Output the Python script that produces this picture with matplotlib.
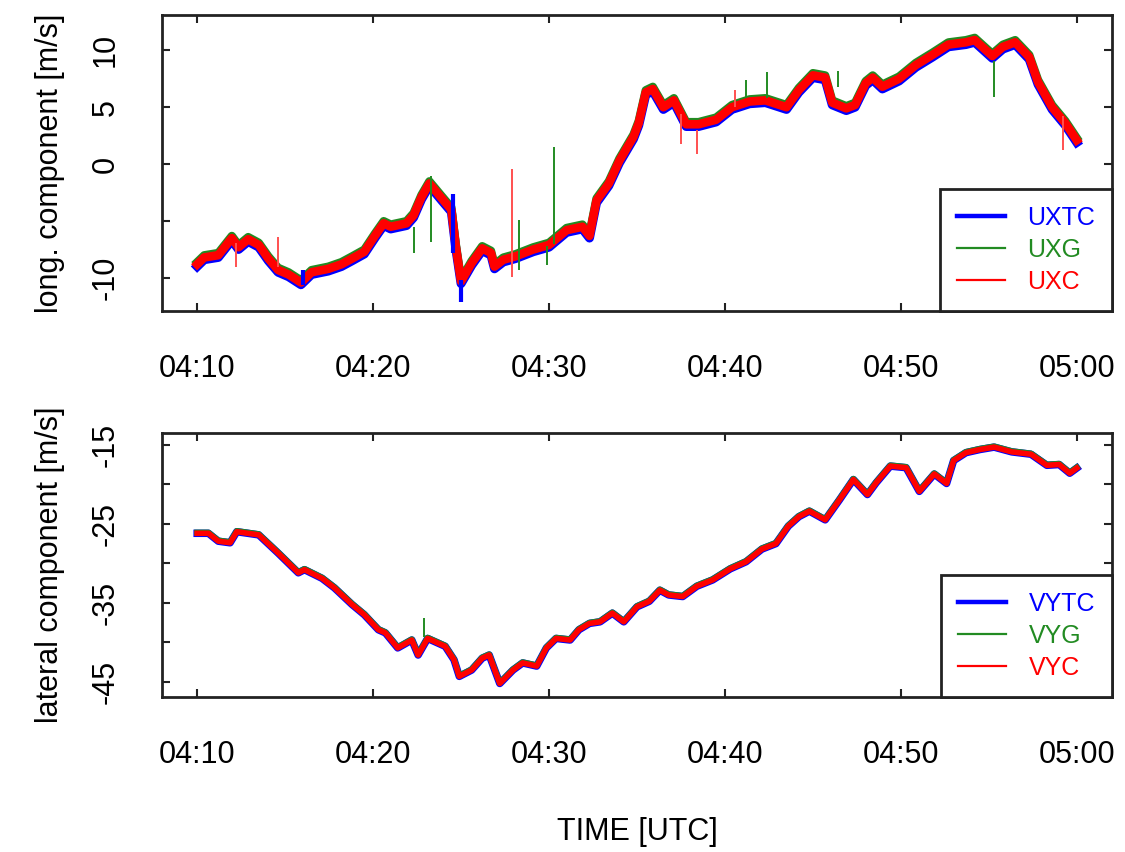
import matplotlib

matplotlib.use("Agg")
import matplotlib.pyplot as plt
import matplotlib.transforms as mtransforms
from matplotlib.lines import Line2D

plt.rcParams["font.family"] = ["Liberation Sans", "DejaVu Sans"]

BLUE = "#0000ff"
GREEN = "#228b22"
RED = "#ff0000"
BOX = "#222222"

# minutes after 04:10 UTC
TICK_MIN = [0, 10, 20, 30, 40, 50]
TICK_LABELS = ["04:10", "04:20", "04:30", "04:40", "04:50", "05:00"]

# longitudinal component (centre of the UXTC / UXG / UXC bundle)
UX_T = [0.0, 0.4, 1.2, 1.97, 2.35, 2.9, 3.5, 4.05, 4.6, 5.2, 5.9, 6.5, 7.45,
        8.2, 8.8, 9.5, 10.1, 10.6, 11.0, 11.9, 12.3, 12.75, 13.2, 13.9, 14.45,
        14.7, 15.0, 15.6, 16.2, 16.7, 16.9, 17.4, 18.1, 19.1, 20.0, 21.0, 21.9,
        22.3, 22.7, 23.4, 24.0, 24.8, 25.1, 25.5, 25.9, 26.5, 27.1, 27.8, 28.5,
        29.5, 30.4, 31.4, 32.3, 33.5, 34.2, 35.0, 35.7, 36.1, 36.9, 37.4, 38.0,
        38.4, 38.95, 39.9, 40.85, 41.8, 42.7, 43.7, 44.2, 45.2, 45.8, 46.5,
        47.3, 47.8, 48.6, 49.35, 50.0]
UX_V = [-8.8, -8.2, -8.0, -6.5, -7.3, -6.6, -7.1, -8.3, -9.3, -9.7, -10.4,
        -9.5, -9.2, -8.8, -8.3, -7.7, -6.3, -5.2, -5.5, -5.2, -4.5, -2.9, -1.7,
        -3.0, -4.0, -7.2, -10.3, -8.7, -7.4, -7.8, -9.0, -8.4, -8.1, -7.5, -7.1,
        -5.8, -5.5, -6.3, -3.2, -1.7, 0.3, 2.4, 3.6, 6.3, 6.6, 5.0, 5.6, 3.5,
        3.5, 3.9, 5.0, 5.5, 5.6, 5.0, 6.5, 7.8, 7.6, 5.4, 4.9, 5.2, 7.1, 7.6,
        6.8, 7.5, 8.7, 9.6, 10.5, 10.7, 10.9, 9.5, 10.3, 10.7, 9.4, 7.2, 5.0,
        3.6, 2.1]

# isolated spikes (time, start, end)
UXTC_SPIKE_T = [6.0, 14.55, 15.0]
UXTC_SPIKE_A = [-9.3, -2.6, -10.2]
UXTC_SPIKE_B = [-10.6, -7.8, -12.1]
UXG_SPIKE_T = [12.3, 13.3, 18.3, 19.9, 20.26, 31.2, 32.4, 36.4, 45.3]
UXG_SPIKE_A = [-5.5, -1.0, -4.9, -7.2, 1.5, 7.4, 8.1, 8.2, 9.1]
UXG_SPIKE_B = [-7.8, -6.8, -9.3, -8.9, -7.0, 5.8, 5.8, 6.8, 5.9]
UXC_SPIKE_T = [2.2, 4.6, 17.9, 27.5, 28.4, 30.6, 49.2]
UXC_SPIKE_A = [-6.9, -6.4, -0.4, 4.4, 3.0, 6.5, 4.2]
UXC_SPIKE_B = [-9.0, -9.0, -9.9, 1.8, 0.9, 5.0, 1.2]

# lateral component
VY_T = [0.0, 0.64, 1.2, 1.87, 2.25, 3.5, 4.6, 5.75, 6.1, 7.1, 7.8, 8.8, 9.5,
        10.3, 10.7, 11.4, 12.2, 12.56, 13.1, 14.1, 14.6, 14.9, 15.6, 16.2,
        16.6, 17.2, 17.95, 18.5, 19.3, 19.85, 20.4, 21.2, 21.7, 22.3, 22.9,
        23.6, 24.25, 25.0, 25.7, 26.3, 26.8, 27.6, 28.4, 29.3, 30.3, 31.2,
        32.1, 32.9, 33.6, 34.2, 34.8, 35.7, 36.5, 37.3, 38.1, 38.6, 39.4, 40.3,
        41.05, 41.9, 42.6, 43.0, 43.7, 44.5, 45.3, 46.3, 47.4, 48.3, 49.0,
        49.6, 50.0]
VY_V = [-26.2, -26.2, -27.2, -27.4, -26.0, -26.4, -28.7, -31.2, -30.8, -31.9,
        -33.1, -35.2, -36.5, -38.4, -38.8, -40.7, -39.7, -41.6, -39.5, -40.5,
        -42.2, -44.3, -43.5, -42.0, -41.6, -45.2, -43.5, -42.6, -43.0, -40.7,
        -39.5, -39.7, -38.4, -37.6, -37.4, -36.3, -37.4, -35.5, -34.8, -33.4,
        -34.0, -34.2, -32.9, -32.1, -30.7, -29.8, -28.2, -27.5, -25.3, -24.1,
        -23.4, -24.5, -22.0, -19.4, -21.3, -19.8, -17.7, -17.9, -20.9, -18.7,
        -19.9, -17.0, -16.0, -15.6, -15.3, -15.9, -16.2, -17.6, -17.5, -18.6,
        -17.95]

VYG_SPIKE_T = [12.9]
VYG_SPIKE_A = [-36.9]
VYG_SPIKE_B = [-39.3]


def shifted(ax, fig, dy):
    return mtransforms.offset_copy(ax.transData, fig=fig, x=0, y=dy, units="dots")


def style_axes(ax, yticks, ylabels, ylim, ylabel):
    ax.set_xlim(-2, 52)
    ax.set_ylim(*ylim)
    ax.set_xticks(TICK_MIN)
    ax.set_xticklabels(TICK_LABELS)
    ax.set_yticks(yticks)
    ax.set_yticklabels(ylabels, rotation=90, va="center")
    ax.tick_params(direction="in", length=6, width=1.5, color=BOX,
                   top=True, right=True, labelsize=22)
    ax.tick_params(axis="x", pad=31)
    ax.tick_params(axis="y", pad=30)
    for s in ax.spines.values():
        s.set_color(BOX)
        s.set_linewidth(2)
    ax.set_ylabel(ylabel, fontsize=22, labelpad=18)


def add_legend(ax, names):
    handles = [Line2D([], [], color=BLUE, lw=3.2),
               Line2D([], [], color=GREEN, lw=1.6),
               Line2D([], [], color=RED, lw=1.6)]
    leg = ax.legend(handles, names, loc="lower right", borderaxespad=0,
                    fontsize=18, handlelength=1.9, handletextpad=0.9,
                    labelspacing=0.32, borderpad=0.68, fancybox=False,
                    framealpha=1, edgecolor=BOX)
    leg.get_frame().set_linewidth(2)
    for txt, c in zip(leg.get_texts(), [BLUE, GREEN, RED]):
        txt.set_color(c)


fig = plt.figure(figsize=(11.25, 8.52), dpi=100)
ax1 = fig.add_axes([0.144, 0.635, 0.8444, 0.3474])
ax2 = fig.add_axes([0.144, 0.182, 0.8444, 0.3099])

# top panel
ax1.plot(UX_T, UX_V, color=BLUE, lw=6.5, transform=shifted(ax1, fig, -2.2))
ax1.plot(UX_T, UX_V, color=GREEN, lw=6.0, transform=shifted(ax1, fig, 2.2))
ax1.plot(UX_T, UX_V, color=RED, lw=6.2)
ax1.vlines(UXTC_SPIKE_T, UXTC_SPIKE_A, UXTC_SPIKE_B, color=BLUE, lw=3)
ax1.vlines(UXG_SPIKE_T, UXG_SPIKE_A, UXG_SPIKE_B, color=GREEN, lw=1.4)
ax1.vlines(UXC_SPIKE_T, UXC_SPIKE_A, UXC_SPIKE_B, color="#ff5050", lw=1.4)
style_axes(ax1, [-10, -5, 0, 5, 10], ["-10", "", "0", "5", "10"],
           (-12.9, 13.1), "long. component [m/s]")
add_legend(ax1, ["UXTC", "UXG", "UXC"])

# bottom panel
ax2.plot(VY_T, VY_V, color=BLUE, lw=5.4)
ax2.plot(VY_T, VY_V, color=GREEN, lw=4.2, transform=shifted(ax2, fig, 0.8))
ax2.plot(VY_T, VY_V, color=RED, lw=4.0)
ax2.vlines(VYG_SPIKE_T, VYG_SPIKE_A, VYG_SPIKE_B, color=GREEN, lw=1.4)
style_axes(ax2, [-45, -40, -35, -30, -25, -20, -15],
           ["-45", "", "-35", "", "-25", "", "-15"],
           (-46.9, -13.5), "lateral component [m/s]")
add_legend(ax2, ["VYTC", "VYG", "VYC"])
ax2.set_xlabel("TIME [UTC]", fontsize=22, labelpad=34)

fig.savefig("out.png", dpi=100, facecolor="white")
